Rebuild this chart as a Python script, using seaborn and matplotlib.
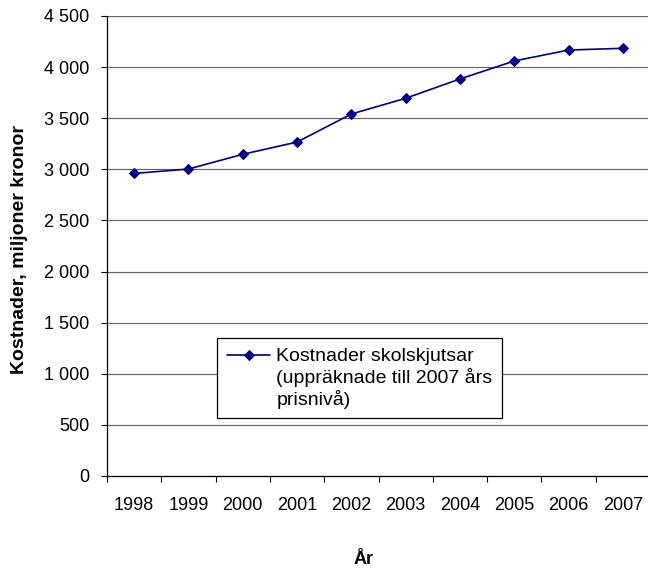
import matplotlib
matplotlib.use("Agg")
import numpy as np
import matplotlib.pyplot as plt
from matplotlib.ticker import FixedLocator, NullFormatter, FixedFormatter
from matplotlib.legend_handler import HandlerLine2D
import seaborn as sns
import pandas as pd

# School transport costs, million SEK (2007 price level)
years = ["1998", "1999", "2000", "2001", "2002", "2003", "2004", "2005", "2006", "2007"]
costs = [2960, 3003, 3147, 3267, 3541, 3695, 3884, 4060, 4167, 4184]
y_ticks = [0, 500, 1000, 1500, 2000, 2500, 3000, 3500, 4000, 4500]
series_label = "Kostnader skolskjutsar\n(uppräknade till 2007 års\nprisnivå)"

sns.set_theme(style="white")
plt.rcParams["font.family"] = ["Liberation Sans", "DejaVu Sans"]

LEG_FS = 14
LINE_SPACING = 1.2


class FirstLineHandler(HandlerLine2D):
    """Place the legend line next to the first text line instead of the centre."""

    def create_artists(self, legend, orig_handle, xdescent, ydescent, width,
                       height, fontsize, trans):
        arts = super().create_artists(legend, orig_handle, xdescent, ydescent,
                                      width, height, fontsize, trans)
        shift = LINE_SPACING * fontsize
        for a in arts:
            a.set_ydata(np.asarray(a.get_ydata(), dtype=float) + shift)
        return arts


df = pd.DataFrame({"pos": range(len(years)), "cost": costs})

fig = plt.figure(figsize=(6.48, 5.8), dpi=100)
ax = fig.add_axes([107 / 648, 104 / 580, 543 / 648, 460 / 580])

sns.lineplot(data=df, x="pos", y="cost", ax=ax, color="#000080",
             linewidth=1.2, marker="D", markersize=5.4,
             markeredgecolor="#000080", markerfacecolor="#000080",
             label=series_label, zorder=3)

ax.set_xlim(-0.5, len(years) - 0.5)
ax.set_ylim(0, 4500)

# horizontal gridlines at each y tick
ax.set_yticks(y_ticks)
ax.set_yticklabels([f"{v:,}".replace(",", " ") for v in y_ticks])
ax.yaxis.grid(True, color="#666666", linewidth=0.85)
ax.xaxis.grid(False)
ax.set_axisbelow(True)

# category ticks between years, labels centred under each year
ax.xaxis.set_major_locator(FixedLocator([i - 0.5 for i in range(len(years) + 1)]))
ax.xaxis.set_major_formatter(NullFormatter())
ax.xaxis.set_minor_locator(FixedLocator(list(range(len(years)))))
ax.xaxis.set_minor_formatter(FixedFormatter(years))
ax.tick_params(axis="x", which="major", direction="out", length=4.5, width=0.8,
               color="black", bottom=True)
ax.tick_params(axis="x", which="minor", length=0, pad=15, labelsize=13,
               labelcolor="black", bottom=True)
ax.tick_params(axis="y", direction="out", length=4.5, width=0.8, color="black",
               left=True, pad=8, labelsize=13, labelcolor="black")

for side in ("top", "right"):
    ax.spines[side].set_visible(False)
for side in ("left", "bottom"):
    ax.spines[side].set_color("black")
    ax.spines[side].set_linewidth(0.9)

ax.set_xlabel("")
ax.set_ylabel("")
fig.text(20 / 648, 1 - 250 / 580, "Kostnader, miljoner kronor", rotation=90,
         ha="center", va="center", fontsize=14, fontweight="bold", color="black")
fig.text(364 / 648, 1 - 560 / 580, "År", ha="center", va="center",
         fontsize=13, fontweight="bold", color="black")

line_handle = ax.get_lines()[0]
leg = ax.legend([line_handle], [series_label],
                handler_map={line_handle: FirstLineHandler()},
                loc="upper left",
                bbox_to_anchor=((217 - 107) / 543, (476 - 338) / 460),
                borderaxespad=0, frameon=True, fancybox=False, shadow=False,
                edgecolor="black", facecolor="white", framealpha=1,
                handlelength=2.25, handletextpad=0.3, borderpad=0.5,
                fontsize=LEG_FS)
leg.get_frame().set_linewidth(0.9)
for t in leg.get_texts():
    t.set_color("black")
    t.set_linespacing(LINE_SPACING)

fig.savefig("out.png", dpi=100)
